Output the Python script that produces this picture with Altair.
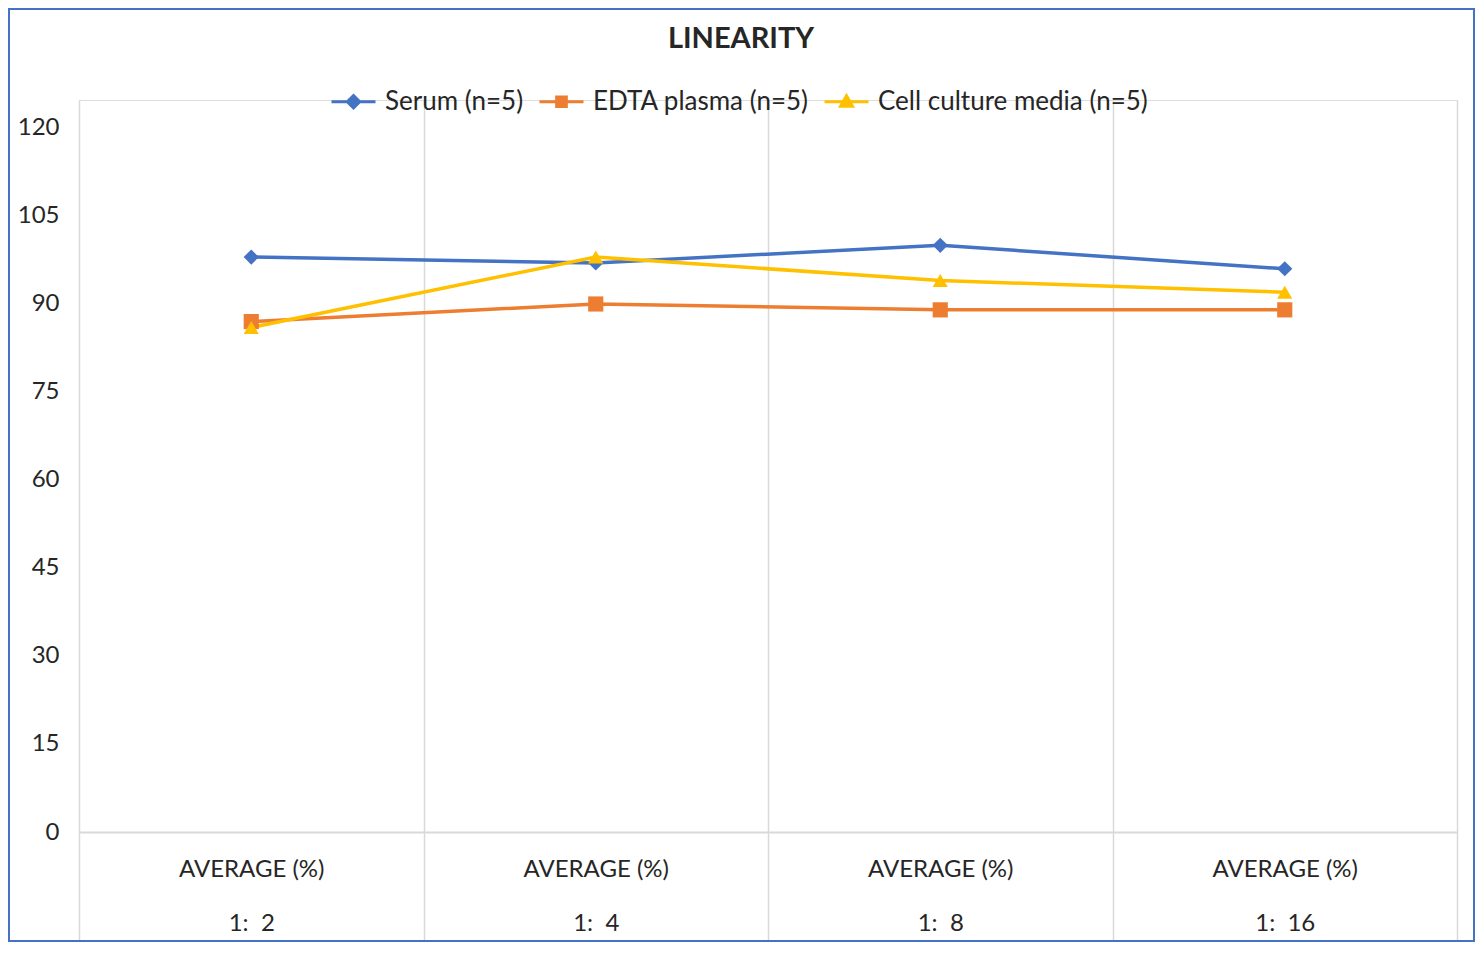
import copy
import altair as alt
import pandas as pd

categories = ["1:\u00a0\u00a02", "1:\u00a0\u00a04", "1:\u00a0\u00a08", "1:\u00a0\u00a016"]
series_names = ["Serum (n=5)", "EDTA plasma (n=5)", "Cell culture media (n=5)"]
serum = [98, 97, 100, 96]
edta = [87, 90, 89, 89]
cell = [86, 98, 94, 92]
colors = ["#4472C4", "#ED7D31", "#FFC000"]
shapes = ["diamond", "square", "triangle-up"]
y_ticks = [0, 15, 30, 45, 60, 75, 90, 105, 120]

rows = []
for name, vals in zip(series_names, [serum, edta, cell]):
    for c, v in zip(categories, vals):
        rows.append({"dilution": c, "series": name, "value": v})
df = pd.DataFrame(rows)

FONT = "Lato"
TXT = "#262626"
GRID = "#d9d9d9"
W, H = 1378, 732

# legend symbol paths: a line with the series marker
p_line = "M-1,0H1"
legend_paths = [
    p_line + "M0,-0.28L0.28,0L0,0.28L-0.28,0Z",
    p_line + "M-0.22,-0.22H0.22V0.22H-0.22Z",
    p_line + "M0,-0.27L0.27,0.2H-0.27Z",
]


def rule(values):
    return [
        {"test": f"datum.value === '{series_names[0]}'", "value": values[0]},
        {"test": f"datum.value === '{series_names[1]}'", "value": values[1]},
        {"value": values[2]},
    ]


legend_encode = {"symbols": {"update": {
    "shape": rule(legend_paths),
    "fill": rule(colors),
    "stroke": rule(colors),
}}}

x_enc = alt.X(
    "dilution:N",
    sort=categories,
    scale=alt.Scale(type="band", paddingInner=0, paddingOuter=0),
    axis=alt.Axis(
        title=None, labelAngle=0,
        labelExpr="datum.label ? ['AVERAGE (%)', datum.label] : ''",
        labelLineHeight=54, labelFontSize=24, labelFont=FONT, labelColor=TXT,
        labelBaseline="top", labelPadding=-88,
        tickBand="extent", tickSize=113, tickColor=GRID, tickWidth=1.5,
        grid=True, gridColor=GRID, gridWidth=1.5,
        domainColor=GRID, domainWidth=2,
    ),
)
y_enc = alt.Y(
    "value:Q",
    scale=alt.Scale(domain=[0, 124.77], nice=False, zero=False),
    axis=alt.Axis(values=y_ticks, title=None, domain=False, ticks=False, grid=False,
                  labelPadding=20, labelFontSize=24, labelFont=FONT, labelColor=TXT),
)
color_scale = alt.Scale(domain=series_names, range=colors)

legend = alt.Legend(
    orient="none", legendX=251, legendY=-22, direction="horizontal",
    title=None, labelFont=FONT, labelFontSize=26, labelColor=TXT, labelLimit=600,
    symbolSize=1936, labelOffset=8, columnPadding=9,
    symbolStrokeWidth=3, symbolOpacity=1,
)

lines = alt.Chart(df).mark_line(strokeWidth=3.5).encode(
    x=x_enc, y=y_enc,
    color=alt.Color("series:N", scale=color_scale, legend=legend),
)

point_layers = [
    alt.Chart(df).transform_filter(alt.datum.series == name)
    .mark_point(filled=True, size=230, opacity=1, shape=shp)
    .encode(x=x_enc, y=y_enc,
            color=alt.Color("series:N", scale=color_scale, legend=legend))
    for name, shp in zip(series_names, shapes)
]

border = alt.Chart(alt.Data(values=[{}])).mark_rect(
    fillOpacity=0, stroke="#4472C4", strokeWidth=2
).encode(
    x=alt.value(-70), x2=alt.value(W + 17),
    y=alt.value(-91), y2=alt.value(H + 109),
)

chart = alt.layer(border, lines, *point_layers).properties(
    width=W, height=H,
    title=alt.TitleParams("LINEARITY", font=FONT, fontSize=29, fontWeight="bold",
                          color=TXT, anchor="middle", offset=-46, dx=-27),
    autosize=alt.AutoSizeParams(type="none"),
    padding={"left": 71, "top": 92, "right": 19, "bottom": 110},
).configure_view(stroke="transparent", strokeOpacity=0).configure(background="white")

# Vega-Lite passes a legend "encode" block (not in its public schema) on to
# Vega: add it to the validated spec when the chart is written.
_cls_to_dict = type(chart).to_dict


def _to_dict(*args, **kwargs):
    d = _cls_to_dict(chart, *args, **kwargs)
    try:
        d2 = copy.deepcopy(d)
        for layer in d2.get("layer", []):
            col = layer.get("encoding", {}).get("color")
            if isinstance(col, dict) and isinstance(col.get("legend"), dict):
                col["legend"]["encode"] = copy.deepcopy(legend_encode)
        return d2
    except Exception:
        return d


object.__setattr__(chart, "to_dict", _to_dict)

chart.save("out.html", embed_options={"renderer": "svg", "actions": False})
